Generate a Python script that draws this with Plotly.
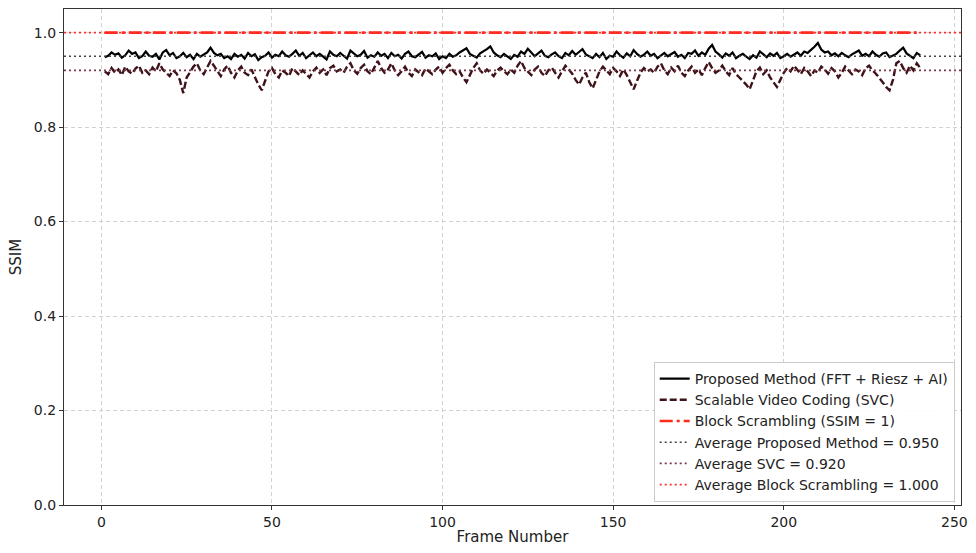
import plotly.graph_objects as go

frames = list(range(1, 241))

proposed = [
    .948,.951,.958,.953,.956,.947,.952,.962,.955,.958,.946,.950,.960,.951,.949,.955,.943,.958,.963,.952,
    .957,.946,.950,.957,.948,.953,.944,.955,.949,.954,.958,.968,.957,.952,.955,.946,.950,.944,.955,.949,
    .953,.945,.957,.950,.954,.942,.948,.951,.958,.947,.953,.950,.960,.952,.949,.955,.962,.951,.957,.946,
    .952,.958,.950,.955,.949,.943,.960,.953,.950,.957,.951,.945,.962,.955,.950,.953,.961,.947,.952,.949,
    .958,.951,.955,.946,.957,.950,.953,.945,.955,.960,.950,.948,.954,.959,.947,.952,.950,.956,.944,.950,
    .946,.955,.949,.952,.958,.963,.967,.955,.951,.947,.956,.960,.965,.971,.958,.952,.948,.955,.950,.944,
    .953,.949,.960,.955,.966,.957,.950,.956,.962,.951,.948,.954,.958,.950,.946,.957,.952,.961,.953,.959,
    .965,.954,.950,.946,.955,.948,.957,.944,.951,.949,.960,.952,.947,.956,.950,.963,.955,.949,.953,.960,
    .951,.955,.946,.951,.957,.950,.954,.959,.949,.953,.946,.957,.955,.962,.951,.958,.953,.966,.974,.960,
    .954,.947,.956,.951,.958,.946,.951,.955,.949,.944,.952,.947,.960,.953,.948,.956,.951,.957,.946,.950,
    .955,.949,.953,.958,.951,.960,.957,.963,.970,.978,.964,.958,.960,.952,.956,.950,.957,.952,.948,.954,
    .958,.962,.951,.955,.950,.960,.953,.949,.956,.958,.948,.952,.955,.962,.968,.956,.950,.946,.957,.952,
]

svc = [
    .918,.912,.925,.915,.922,.910,.928,.918,.913,.924,.930,.915,.920,.912,.926,.918,.935,.922,.915,.908,
    .920,.914,.900,.872,.905,.918,.928,.935,.920,.912,.925,.940,.930,.918,.908,.922,.930,.915,.905,.920,
    .928,.915,.910,.922,.905,.890,.878,.900,.918,.925,.912,.905,.920,.915,.908,.925,.918,.910,.920,.913,
    .905,.918,.926,.915,.922,.910,.925,.930,.918,.922,.915,.928,.935,.920,.913,.925,.932,.918,.912,.926,
    .940,.925,.915,.922,.935,.920,.910,.918,.928,.915,.908,.922,.916,.910,.924,.918,.912,.922,.928,.915,
    .925,.932,.920,.912,.918,.905,.895,.910,.925,.935,.920,.913,.922,.915,.908,.920,.926,.918,.912,.922,
    .915,.930,.940,.925,.918,.910,.922,.928,.915,.908,.920,.926,.915,.905,.918,.930,.922,.913,.900,.890,
    .905,.915,.895,.882,.900,.918,.928,.920,.912,.925,.918,.908,.922,.910,.895,.880,.898,.915,.925,.918,
    .922,.915,.928,.935,.920,.912,.926,.918,.930,.915,.908,.920,.928,.915,.922,.910,.925,.938,.925,.915,
    .920,.930,.918,.910,.925,.912,.905,.898,.890,.880,.900,.918,.926,.912,.920,.905,.895,.885,.900,.915,
    .925,.918,.930,.920,.912,.925,.918,.908,.920,.915,.928,.922,.913,.925,.918,.905,.915,.928,.920,.912,
    .922,.918,.910,.925,.930,.920,.913,.905,.895,.885,.878,.900,.935,.940,.925,.915,.930,.920,.935,.925,
]

block = [1.0] * len(frames)

avg_proposed = 0.950
avg_svc = 0.920
avg_block = 1.000

x_range = [-10.95, 251.95]
y_range = [0, 1.05]
x_ticks = [0, 50, 100, 150, 200, 250]
y_ticks = [0.0, 0.2, 0.4, 0.6, 0.8, 1.0]

fig = go.Figure()
fig.add_trace(go.Scatter(x=frames, y=proposed, mode="lines", name="Proposed Method (FFT + Riesz + AI)",
                         line=dict(color="black", width=2.2)))
fig.add_trace(go.Scatter(x=frames, y=svc, mode="lines", name="Scalable Video Coding (SVC)",
                         line=dict(color="#3d1218", width=2.4, dash="7px,3px")))
fig.add_trace(go.Scatter(x=frames, y=block, mode="lines", name="Block Scrambling (SSIM = 1)",
                         line=dict(color="#ff2a1a", width=2.6, dash="13px,4px,3px,4px")))
fig.add_trace(go.Scatter(x=x_range, y=[avg_proposed] * 2, mode="lines",
                         name=f"Average Proposed Method = {avg_proposed:.3f}",
                         line=dict(color="#444444", width=1.6, dash="2px,3px")))
fig.add_trace(go.Scatter(x=x_range, y=[avg_svc] * 2, mode="lines",
                         name=f"Average SVC = {avg_svc:.3f}",
                         line=dict(color="#7a3a48", width=1.6, dash="2px,3px")))
fig.add_trace(go.Scatter(x=x_range, y=[avg_block] * 2, mode="lines",
                         name=f"Average Block Scrambling = {avg_block:.3f}",
                         line=dict(color="#ff3030", width=1.6, dash="2px,3px")))

axis_common = dict(showline=True, linecolor="#333333", linewidth=1.2, mirror=True,
                   ticks="outside", ticklen=4, tickcolor="#333333",
                   showgrid=True, gridcolor="#d2d2d2", griddash="4px,3px", gridwidth=1,
                   zeroline=False, tickfont=dict(size=14, color="#222222"))

fig.update_xaxes(range=x_range, tickvals=x_ticks,
                 title=dict(text="Frame Number", font=dict(size=15, color="#222222"), standoff=2),
                 **axis_common)
fig.update_yaxes(range=y_range, tickvals=y_ticks, tickformat=".1f",
                 title=dict(text="SSIM", font=dict(size=15, color="#222222"), standoff=8), **axis_common)

fig.update_layout(
    width=976, height=553,
    margin=dict(l=64, r=8, t=8, b=48),
    paper_bgcolor="white", plot_bgcolor="white",
    font=dict(family="DejaVu Sans", color="#222222"),
    legend=dict(x=0.993, y=0.006, xanchor="right", yanchor="bottom",
                bgcolor="rgba(255,255,255,0.9)", bordercolor="#cccccc", borderwidth=1,
                font=dict(size=14), tracegroupgap=0, itemwidth=30),
)

fig.write_html("out.html")
